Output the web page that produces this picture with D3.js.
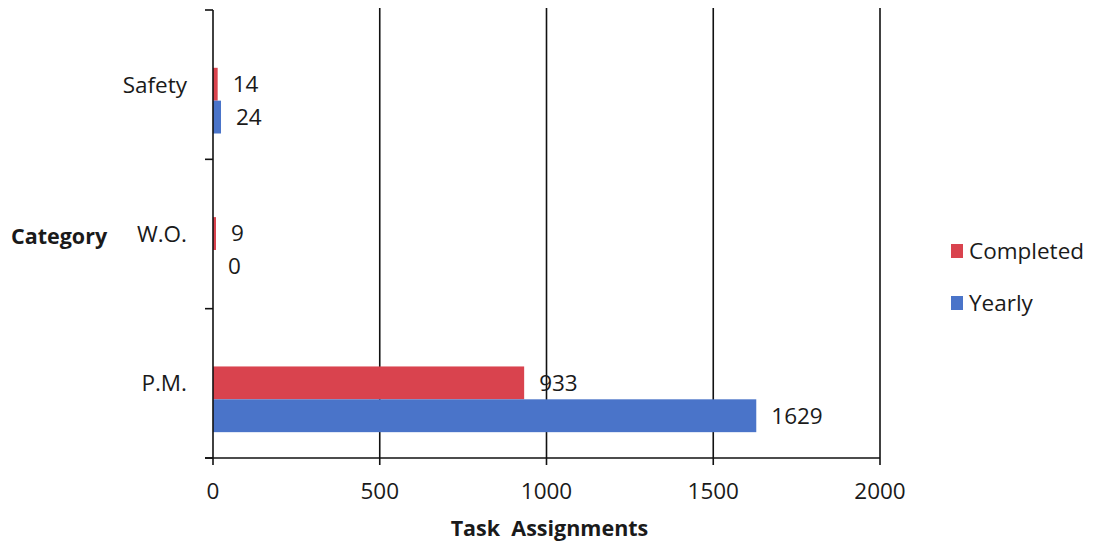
<!DOCTYPE html>
<html>
<head>
<meta charset="utf-8">
<script src="https://cdn.jsdelivr.net/npm/d3@7/dist/d3.min.js"></script>
<style>
  html, body { margin: 0; padding: 0; background: #fff; }
  svg { display: block; }
  text { font-family: "Open Sans", "Noto Sans", sans-serif; fill: #1a1a1a; }
</style>
</head>
<body>
<svg id="chart" width="1093" height="552"></svg>
<script>
// ---- data ----
const categories = ["Safety", "W.O.", "P.M."];
const seriesNames = ["Completed", "Yearly"];
const completed = [14, 9, 933];
const yearly = [24, 0, 1629];
const xTicks = [0, 500, 1000, 1500, 2000];
const seriesColors = ["#d9434e", "#4a74c9"];

const svg = d3.select("#chart");
const m = { left: 213, right: 880, top: 10, bottom: 458 };
const FS = 22.5;

const x = d3.scaleLinear().domain([0, 2000]).range([m.left, m.right]);
const y = d3.scaleBand().domain(categories).range([m.top, m.bottom]);
const bw = y.bandwidth();
const sub = d3.scaleBand().domain(seriesNames)
  .range([bw / 2 - 0.113 * bw, bw / 2 + 0.327 * bw]);

const rows = categories.map((c, i) => ({ cat: c, vals: [completed[i], yearly[i]] }));

// gridlines (with tick extension below axis)
svg.append("g").selectAll("line").data(xTicks.filter(d => d > 0)).join("line")
  .attr("x1", d => x(d)).attr("x2", d => x(d))
  .attr("y1", m.top - 2).attr("y2", m.bottom + 7)
  .attr("stroke", "#111").attr("stroke-width", 1.6);

// bars
const g = svg.append("g");
rows.forEach(r => {
  seriesNames.forEach((s, j) => {
    const v = r.vals[j];
    const yy = y(r.cat) + sub(s);
    g.append("rect")
      .attr("x", x(0)).attr("y", yy)
      .attr("width", Math.max(0, x(v) - x(0))).attr("height", sub.bandwidth())
      .attr("fill", seriesColors[j]);
    g.append("text")
      .attr("x", x(v) + 15).attr("y", yy + sub.bandwidth() / 2)
      .attr("dy", "0.35em").attr("font-size", FS)
      .text(v);
  });
});

// y axis
svg.append("line").attr("x1", x(0)).attr("x2", x(0))
  .attr("y1", m.top).attr("y2", m.bottom + 7)
  .attr("stroke", "#111").attr("stroke-width", 1.6);
const yTickPos = [m.top].concat(categories.map(c => y(c) + bw));
svg.append("g").selectAll("line").data(yTickPos).join("line")
  .attr("x1", x(0) - 8).attr("x2", x(0))
  .attr("y1", d => d).attr("y2", d => d)
  .attr("stroke", "#111").attr("stroke-width", 1.6);
svg.append("g").selectAll("text").data(categories).join("text")
  .attr("x", x(0) - 26).attr("y", d => y(d) + bw / 2)
  .attr("dy", "0.35em").attr("text-anchor", "end").attr("font-size", FS)
  .text(d => d);

// x axis
svg.append("line").attr("x1", x(0) - 8).attr("x2", x(2000))
  .attr("y1", m.bottom).attr("y2", m.bottom)
  .attr("stroke", "#111").attr("stroke-width", 1.6);
svg.append("g").selectAll("text").data(xTicks).join("text")
  .attr("x", d => x(d)).attr("y", 491)
  .attr("dy", "0.35em").attr("text-anchor", "middle").attr("font-size", FS)
  .text(d => d);

// axis titles
svg.append("text").attr("x", (m.left + m.right) / 2 + 3).attr("y", 528)
  .attr("dy", "0.35em").attr("text-anchor", "middle")
  .attr("font-size", 21.5).attr("font-weight", "bold")
  .attr("xml:space", "preserve").style("white-space", "pre")
  .text("Task  Assignments");
svg.append("text").attr("x", 11).attr("y", 236)
  .attr("dy", "0.35em").attr("font-size", 21.5).attr("font-weight", "bold")
  .text("Category");

// legend
const leg = svg.append("g");
seriesNames.forEach((s, i) => {
  const ly = 251 + i * 52;
  leg.append("rect").attr("x", 951).attr("y", ly - 7).attr("width", 12).attr("height", 14)
    .attr("fill", seriesColors[i]);
  leg.append("text").attr("x", 969).attr("y", ly).attr("dy", "0.35em")
    .attr("font-size", FS).text(s);
});
</script>
</body>
</html>
